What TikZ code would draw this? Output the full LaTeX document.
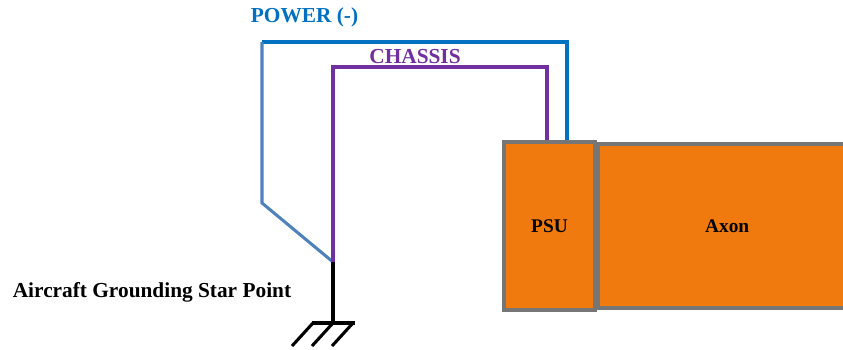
\documentclass[tikz,border=0pt]{standalone}
\usepackage{fontspec}
\setmainfont{Liberation Serif}
\definecolor{pwrblue}{RGB}{0,112,192}
\definecolor{pwrlight}{RGB}{79,129,189}
\definecolor{chassis}{RGB}{112,48,160}
\definecolor{boxgrey}{RGB}{118,118,118}
\definecolor{unitorange}{RGB}{240,122,14}
\begin{document}
\begin{tikzpicture}[x=0.75pt,y=-0.75pt,
  wire/.style={line width=2.3pt},
  unit/.style={draw=boxgrey,line width=2.4pt,fill=unitorange,inner sep=0pt,
    font=\bfseries\fontsize{14.5}{16}\selectfont},
  lbl/.style={font=\bfseries\fontsize{16}{18}\selectfont,inner sep=0pt}]
  \clip (0,0) rectangle (843,350);

  \coordinate (star) at (333,262);
  \coordinate (pwrx) at (567,0);
  \coordinate (chsx) at (547,0);
  \coordinate (bend) at (262,203);

  \node[unit,minimum width=68.25pt,minimum height=126pt] (psu) at (549.5,226) {PSU};
  \node[unit,minimum width=193.5pt,minimum height=123pt,anchor=west] (axon) at (psu.east) {Axon};

  % power wire and chassis wire
  \draw[wire,pwrblue] (psu.north -| pwrx) -- (567,42) -- (262,42);
  \draw[wire,pwrlight] (262,42) -- (bend) -- (star);
  \draw[wire,chassis] (psu.north -| chsx) -- (547,67) -- (333,67) -- (star);

  % ground symbol
  \draw[wire,black] (star) -- ++(0,61) coordinate (gnd);
  \draw[wire,black] (gnd) ++(-21,0) -- ++(43,0);
  \foreach \dx in {-20,0,20}
    \draw[wire,black] (gnd) ++(\dx,0) -- ++(-21,23);

  \node[lbl,text=pwrblue] (pwrlbl) at (304.5,17) {POWER (-)};
  \node[lbl,text=chassis] (chslbl) at (415,57) {CHASSIS};
  \node[lbl] (starlbl) at (152,292) {Aircraft Grounding Star Point};
\end{tikzpicture}
\end{document}
